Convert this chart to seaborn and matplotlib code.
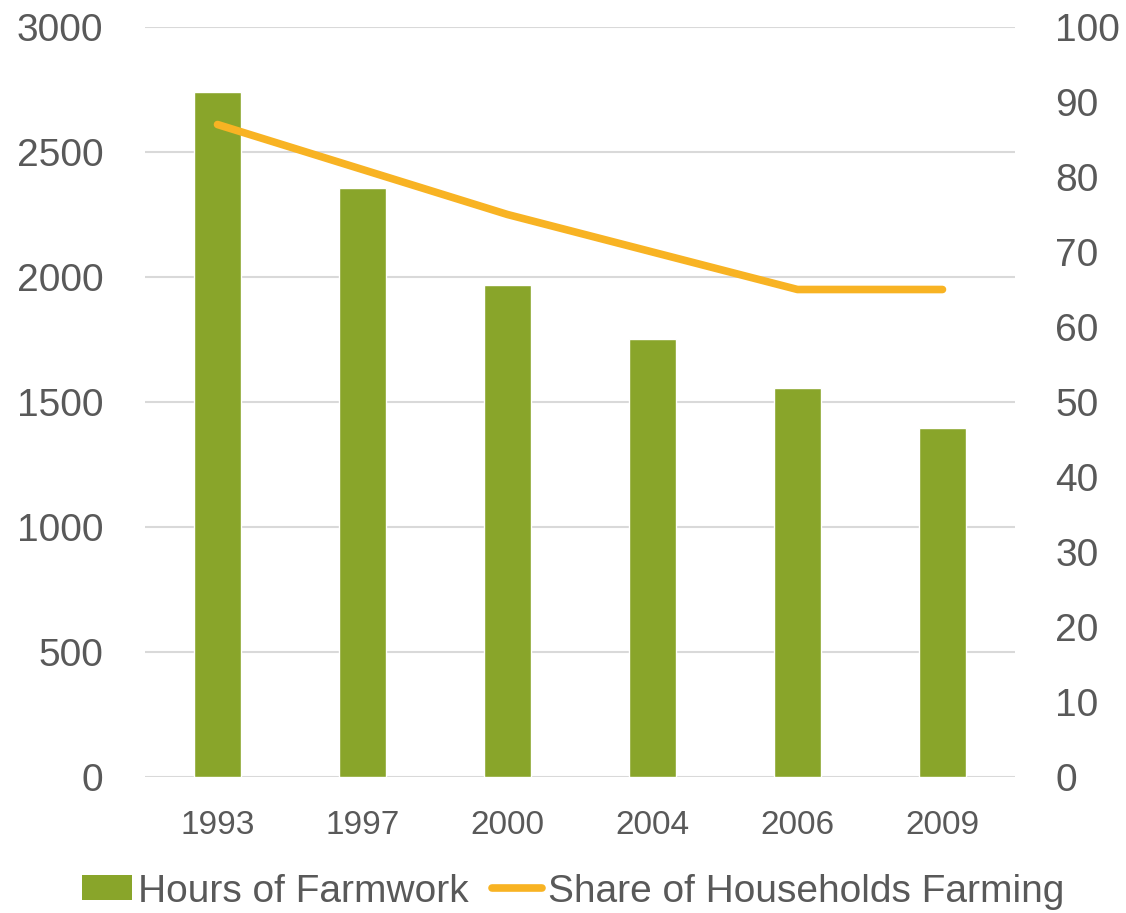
import matplotlib
matplotlib.use("Agg")
import matplotlib.pyplot as plt
import seaborn as sns
import pandas as pd
import numpy as np
from matplotlib.lines import Line2D
from matplotlib.patches import Patch

years = ["1993", "1997", "2000", "2004", "2006", "2009"]
hours_farmwork = [2740, 2355, 1970, 1750, 1555, 1395]
share_farming = [87, 81, 75, 70, 65, 65]

bar_color = "#89A52A"
line_color = "#F8B323"
text_color = "#595959"
grid_color = "#D9D9D9"

sns.set_theme(style="white")
plt.rcParams["font.family"] = ["Liberation Sans", "DejaVu Sans"]

df = pd.DataFrame({"year": years, "hours": hours_farmwork, "share": share_farming})
df["pos"] = np.arange(len(df))

fig = plt.figure(figsize=(11.26, 9.13), dpi=100)
ax = fig.add_axes([0.1288, 0.1490, 0.7726, 0.8214])

sns.barplot(data=df, x="year", y="hours", color=bar_color, width=0.32,
            saturation=1, ax=ax, zorder=2)
ax.set_xlim(-0.5, len(years) - 0.5)
ax.set_ylim(0, 3000)
ax.set_yticks(np.arange(0, 3001, 500))
ax.yaxis.grid(True, color=grid_color, linewidth=1.5, zorder=0)
ax.set_axisbelow(True)
ax.set_xlabel("")
ax.set_ylabel("")
for s in ax.spines.values():
    s.set_visible(False)
ax.tick_params(axis="y", length=0, pad=30, labelsize=28, labelcolor=text_color)
ax.tick_params(axis="x", length=0, pad=24, labelsize=24, labelcolor=text_color)

ax2 = ax.twinx()
sns.lineplot(data=df, x="pos", y="share", color=line_color, linewidth=5.5,
             solid_capstyle="round", solid_joinstyle="round", ax=ax2, zorder=3)
ax2.set_ylim(0, 100)
ax2.set_yticks(np.arange(0, 101, 10))
ax2.set_ylabel("")
ax2.set_xlabel("")
for s in ax2.spines.values():
    s.set_visible(False)
ax2.tick_params(axis="y", length=0, pad=29, labelsize=28, labelcolor=text_color)
ax2.grid(False)

handles = [
    Patch(facecolor=bar_color, edgecolor="none", label="Hours of Farmwork"),
    Line2D([0], [0], color=line_color, linewidth=5.5, solid_capstyle="round",
           label="Share of Households Farming"),
]
leg = fig.legend(handles=handles, loc="lower center", bbox_to_anchor=(0.509, -0.026),
                 ncol=2, frameon=False, fontsize=28, handlelength=1.3,
                 handleheight=0.62, handletextpad=0.15, columnspacing=0.6,
                 borderaxespad=0.3)
for t in leg.get_texts():
    t.set_color(text_color)

fig.savefig("out.png", dpi=100)
